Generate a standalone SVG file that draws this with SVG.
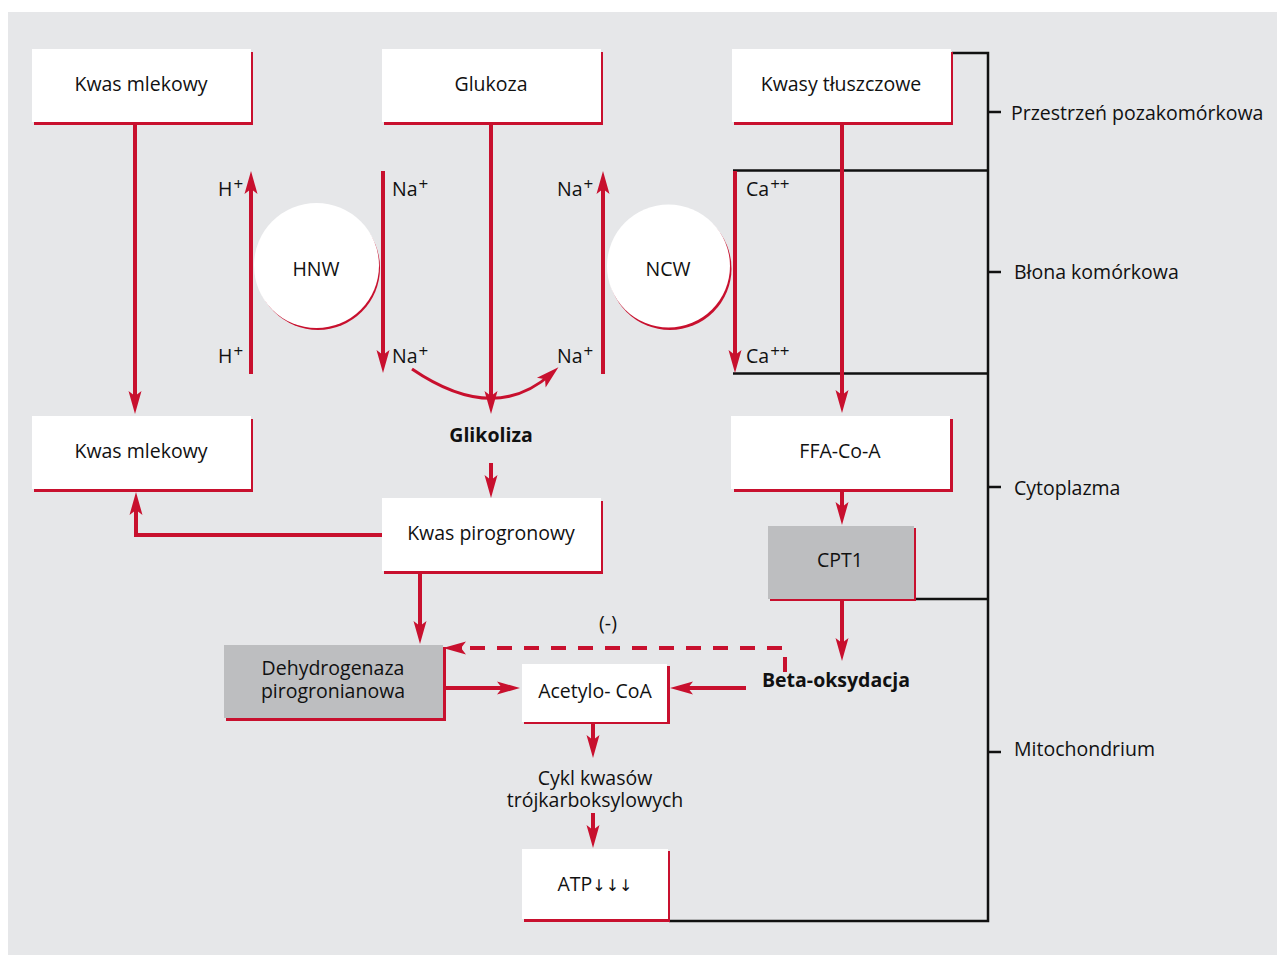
<svg xmlns="http://www.w3.org/2000/svg" width="1277" height="955" viewBox="0 0 1277 955">
<defs>
<style>
text{font-family:"Open Sans","Noto Sans","Liberation Sans",sans-serif;font-size:19.5px;fill:#111;}
.c{text-anchor:middle;}
.b{font-weight:bold;}
.sup{font-size:17px;}
.ar{font-family:"DejaVu Sans",sans-serif;font-size:16px;fill:#111;}
.box{fill:#fff;}
.gbox{fill:#bdbec0;}
.sh{fill:#c8102e;}
.arr{stroke:#c8102e;stroke-width:4;fill:none;marker-end:url(#ah);}
.dash{stroke:#c8102e;stroke-width:4;fill:none;stroke-dasharray:15 12;}
.blk{stroke:#111;stroke-width:2.5;fill:none;}
</style>
<marker id="ah" markerUnits="userSpaceOnUse" viewBox="-14 -8 26 16" markerWidth="26" markerHeight="16" refX="0" refY="0" orient="auto">
<path d="M10,0 L-13,-6.5 L-8,0 L-13,6.5 Z" fill="#c8102e"/>
</marker>
</defs>
<rect x="8" y="12" width="1269" height="943" fill="#e6e7e9"/>

<g id="brackets">
<path class="blk" d="M952,53 H988 V921 H669"/>
<path class="blk" d="M733,170.5 H988 M733,373.5 H988 M914,599 H988"/>
<path class="blk" d="M988,112 H1001 M988,272 H1001 M988,487 H1001 M988,752 H1001"/>
</g>
<g id="region-labels">
<text x="1011" y="120">Przestrzeń pozakomórkowa</text>
<text x="1014" y="279">Błona komórkowa</text>
<text x="1014" y="495">Cytoplazma</text>
<text x="1014" y="756">Mitochondrium</text>
</g>

<g id="connectors">
<line class="arr" x1="135" y1="124" x2="135" y2="404"/>
<line class="arr" x1="491" y1="124" x2="491" y2="404"/>
<line class="arr" x1="842" y1="124" x2="842" y2="403"/>
<line class="arr" x1="251" y1="374" x2="251" y2="181"/>
<line class="arr" x1="383" y1="171" x2="383" y2="363"/>
<line class="arr" x1="603" y1="374" x2="603" y2="181"/>
<line class="arr" x1="735" y1="171" x2="735" y2="363"/>
<path class="arr" style="stroke-width:3" d="M412,369 Q494,425 551,374"/>
<line class="arr" x1="491" y1="463" x2="491" y2="488"/>
<path class="arr" d="M383,535 H136 V502"/>
<line class="arr" x1="420" y1="573" x2="420" y2="634"/>
<line class="arr" x1="842" y1="491" x2="842" y2="515"/>
<line class="arr" x1="842" y1="601" x2="842" y2="651"/>
<line class="arr" x1="446" y1="688" x2="510" y2="688"/>
<line class="arr" x1="746" y1="688" x2="680" y2="688"/>
<path class="dash" d="M785,672 V648 H460"/>
<line class="arr" x1="462" y1="648" x2="453" y2="648"/>
<line class="arr" x1="593" y1="724" x2="593" y2="748"/>
<line class="arr" x1="593" y1="813" x2="593" y2="838"/>
</g>

<g id="ions">
<text x="218" y="196">H<tspan class="sup" dx="1" dy="-6">+</tspan></text>
<text x="218" y="363">H<tspan class="sup" dx="1" dy="-6">+</tspan></text>
<text x="392" y="196">Na<tspan class="sup" dx="1" dy="-6">+</tspan></text>
<text x="392" y="363">Na<tspan class="sup" dx="1" dy="-6">+</tspan></text>
<text x="557" y="196">Na<tspan class="sup" dx="1" dy="-6">+</tspan></text>
<text x="557" y="363">Na<tspan class="sup" dx="1" dy="-6">+</tspan></text>
<text x="746" y="196">Ca<tspan class="sup" dx="1" dy="-6">++</tspan></text>
<text x="746" y="363">Ca<tspan class="sup" dx="1" dy="-6">++</tspan></text>
</g>

<g id="node-hnw">
<circle class="sh" cx="318" cy="268" r="62"/>
<circle class="box" cx="316.5" cy="265.5" r="62.5"/>
<text class="c" x="316" y="276">HNW</text>
</g>
<g id="node-ncw">
<circle class="sh" cx="670" cy="268.5" r="61.5"/>
<circle class="box" cx="668.5" cy="266" r="61.5"/>
<text class="c" x="668" y="276">NCW</text>
</g>

<g id="node-kwas-mlekowy-top">
<rect class="sh" x="34" y="52" width="219" height="73"/>
<rect class="box" x="32" y="49" width="219" height="73"/>
<text class="c" x="141" y="91">Kwas mlekowy</text>
</g>
<g id="node-glukoza">
<rect class="sh" x="384" y="52" width="219" height="73"/>
<rect class="box" x="382" y="49" width="219" height="73"/>
<text class="c" x="491" y="91">Glukoza</text>
</g>
<g id="node-kwasy-tluszczowe">
<rect class="sh" x="734" y="52" width="219" height="73"/>
<rect class="box" x="732" y="49" width="219" height="73"/>
<text class="c" x="841" y="91">Kwasy tłuszczowe</text>
</g>
<g id="node-kwas-mlekowy">
<rect class="sh" x="34" y="419" width="219" height="73"/>
<rect class="box" x="32" y="416" width="219" height="73"/>
<text class="c" x="141" y="458">Kwas mlekowy</text>
</g>
<g id="node-glikoliza">
<text class="c b" x="491" y="442">Glikoliza</text>
</g>
<g id="node-kwas-pirogronowy">
<rect class="sh" x="384" y="501" width="219" height="73"/>
<rect class="box" x="382" y="498" width="219" height="73"/>
<text class="c" x="491" y="540">Kwas pirogronowy</text>
</g>
<g id="node-ffa">
<rect class="sh" x="734" y="419" width="219" height="73"/>
<rect class="box" x="731" y="416" width="219" height="73"/>
<text class="c" x="840" y="458">FFA-Co-A</text>
</g>
<g id="node-cpt1">
<rect class="sh" x="770" y="528" width="146" height="73"/>
<rect class="gbox" x="768" y="526" width="146" height="73"/>
<text class="c" x="840" y="567">CPT1</text>
</g>
<g id="node-dehydrogenaza">
<rect class="sh" x="226" y="647" width="220" height="74"/>
<rect class="gbox" x="224" y="645" width="219" height="73"/>
<text class="c" x="333" y="675">Dehydrogenaza</text>
<text class="c" x="333" y="698">pirogronianowa</text>
</g>
<g id="node-beta">
<text class="b" x="762" y="687">Beta-oksydacja</text>
</g>
<g id="node-inhibit">
<text class="c" x="608" y="630">(-)</text>
</g>
<g id="node-acetylo">
<rect class="sh" x="524" y="666" width="146" height="58"/>
<rect class="box" x="522" y="664" width="145" height="58"/>
<text class="c" x="595" y="698">Acetylo- CoA</text>
</g>
<g id="node-cykl">
<text class="c" x="595" y="785">Cykl kwasów</text>
<text class="c" x="595" y="807">trójkarboksylowych</text>
</g>
<g id="node-atp">
<rect class="sh" x="524" y="851" width="146" height="71"/>
<rect class="box" x="522" y="849" width="146" height="70"/>
<text class="c" x="595" y="891">ATP<tspan class="ar">↓↓↓</tspan></text>
</g>
</svg>
